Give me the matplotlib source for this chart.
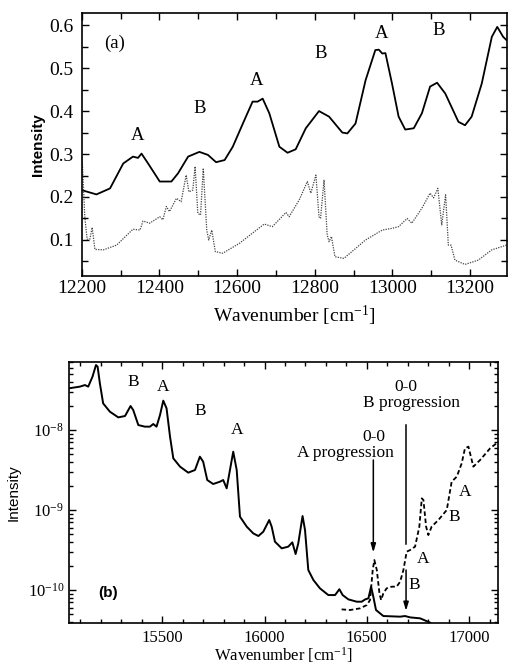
import matplotlib
matplotlib.use("Agg")
import matplotlib.pyplot as plt
from matplotlib.ticker import (MultipleLocator, LogLocator, FormatStrFormatter, NullFormatter,
                               FixedLocator)
import numpy as np

plt.rcParams['font.family'] = ['Liberation Serif', 'DejaVu Serif']
plt.rcParams['mathtext.fontset'] = 'custom'
plt.rcParams['mathtext.rm'] = 'Liberation Serif'
plt.rcParams['mathtext.it'] = 'Liberation Serif:italic'
plt.rcParams['mathtext.default'] = 'regular'

# ---------------- Panel (a) data ----------------
a_solid_x = [12200, 12238, 12273, 12307, 12332, 12345, 12354, 12371, 12401, 12431,
             12448, 12474, 12503, 12525, 12546, 12568, 12589, 12615, 12640, 12653,
             12666, 12683, 12709, 12730, 12751, 12777, 12811, 12837, 12871, 12884,
             12905, 12931, 12956, 12965, 12974, 12982, 12999, 13016, 13033, 13055,
             13076, 13097, 13115, 13136, 13170, 13187, 13204, 13230, 13256, 13270,
             13285, 13294]
a_solid_y = [0.216, 0.206, 0.220, 0.278, 0.294, 0.291, 0.301, 0.278, 0.236, 0.236,
             0.255, 0.294, 0.305, 0.298, 0.281, 0.286, 0.317, 0.371, 0.422, 0.422,
             0.429, 0.395, 0.317, 0.303, 0.311, 0.360, 0.400, 0.387, 0.350, 0.348,
             0.371, 0.472, 0.542, 0.543, 0.534, 0.535, 0.464, 0.387, 0.357, 0.360,
             0.395, 0.457, 0.466, 0.441, 0.375, 0.367, 0.387, 0.464, 0.573, 0.596,
             0.573, 0.565]

a_dot_x = [12201, 12208, 12214, 12221, 12227, 12234, 12256, 12290, 12332, 12350,
           12358, 12375, 12401, 12409, 12418, 12426, 12444, 12456, 12469, 12476,
           12486, 12492, 12499, 12506, 12513, 12522, 12527, 12535, 12544, 12563,
           12606, 12640, 12670, 12691, 12726, 12734, 12760, 12781, 12790, 12803,
           12811, 12815, 12824, 12832, 12837, 12843, 12852, 12875, 12931, 12974,
           12999, 13016, 13038, 13050, 13076, 13097, 13106, 13117, 13127, 13137,
           13144, 13151, 13161, 13187, 13221, 13256, 13294]
a_dot_y = [0.294, 0.154, 0.102, 0.102, 0.129, 0.078, 0.077, 0.088, 0.125, 0.123,
           0.144, 0.139, 0.154, 0.147, 0.178, 0.166, 0.197, 0.189, 0.251, 0.212,
           0.216, 0.271, 0.162, 0.158, 0.267, 0.123, 0.100, 0.123, 0.073, 0.069,
           0.092, 0.116, 0.137, 0.131, 0.164, 0.154, 0.193, 0.236, 0.209, 0.251,
           0.154, 0.150, 0.240, 0.112, 0.096, 0.108, 0.061, 0.057, 0.100, 0.123,
           0.127, 0.131, 0.150, 0.139, 0.174, 0.209, 0.198, 0.220, 0.135, 0.205,
           0.088, 0.088, 0.053, 0.043, 0.053, 0.077, 0.088]

a_labels = ["A", "B", "A", "B", "A", "B"]
a_label_x = [12345, 12503, 12649, 12815, 12971, 13119]
a_label_y = [0.344, 0.406, 0.472, 0.534, 0.581, 0.588]

# ---------------- Panel (b) data (log10 intensity) ----------------
b_solid_x = [15043, 15097, 15122, 15138, 15159, 15176, 15184, 15195, 15211, 15244,
             15285, 15318, 15345, 15358, 15383, 15415, 15440, 15456, 15472, 15489,
             15505, 15521, 15538, 15554, 15587, 15627, 15660, 15684, 15700, 15720,
             15749, 15782, 15798, 15815, 15831, 15847, 15864, 15880, 15913, 15945,
             15970, 15994, 16023, 16035, 16051, 16084, 16116, 16136, 16152, 16165,
             16186, 16198, 16214, 16239, 16271, 16312, 16345, 16366, 16382, 16410,
             16451, 16475, 16492, 16508, 16521, 16532, 16545, 16581, 16663, 16687,
             16712, 16761, 16810]
b_solid_log = [-7.479, -7.458, -7.438, -7.458, -7.333, -7.188, -7.208, -7.417, -7.667, -7.771,
               -7.842, -7.825, -7.700, -7.750, -7.938, -7.958, -7.958, -7.925, -7.958, -7.813,
               -7.633, -7.729, -8.083, -8.354, -8.458, -8.533, -8.500, -8.333, -8.396, -8.625,
               -8.675, -8.646, -8.625, -8.729, -8.500, -8.271, -8.500, -9.083, -9.208, -9.292,
               -9.325, -9.271, -9.125, -9.208, -9.396, -9.479, -9.458, -9.404, -9.550, -9.417,
               -9.075, -9.250, -9.750, -9.875, -9.979, -10.063, -10.063, -9.990, -10.063, -10.117,
               -10.146, -10.146, -10.117, -10.104, -9.958, -10.083, -10.250, -10.325, -10.333, -10.325,
               -10.342, -10.354, -10.408]

b_dash_x = [16377, 16418, 16467, 16500, 16516, 16529, 16537, 16549, 16562, 16570,
            16581, 16597, 16622, 16646, 16663, 16679, 16695, 16712, 16736, 16757,
            16769, 16777, 16790, 16801, 16817, 16850, 16891, 16915, 16940, 16964,
            16980, 16997, 17021, 17054, 17103, 17144]
b_dash_log = [-10.242, -10.250, -10.229, -10.188, -10.125, -9.750, -9.625, -9.750, -10.042, -10.125,
              -10.042, -9.979, -9.958, -9.958, -9.896, -9.750, -9.521, -9.500, -9.458, -9.208,
              -8.854, -8.875, -9.208, -9.313, -9.208, -9.125, -9.000, -8.646, -8.583, -8.417,
              -8.229, -8.208, -8.458, -8.375, -8.229, -8.146]

b_labels = ["B", "A", "B", "A", "A", "B", "B", "A"]
b_label_x = [15358, 15502, 15684, 15867, 16773, 16733, 16930, 16982]
b_label_log = [-7.396, -7.458, -7.763, -8.000, -9.615, -9.935, -9.083, -8.781]
b_yticks = [1e-10, 1e-9, 1e-8]

# ---------------- figure ----------------
fig = plt.figure(figsize=(5.08, 6.69), dpi=100)

ax1 = fig.add_axes([0.1608, 0.5874, 0.8372, 0.3936])
ax1.plot(a_solid_x, a_solid_y, color='black', lw=1.3)
ax1.plot(a_dot_x, a_dot_y, color='#444444', lw=0.9, ls=(0, (1, 1)))
ax1.set_xlim(12200, 13295)
ax1.set_ylim(0.016, 0.629)
ax1.xaxis.set_major_locator(MultipleLocator(200))
ax1.xaxis.set_minor_locator(MultipleLocator(100))
ax1.yaxis.set_major_locator(MultipleLocator(0.1))
ax1.yaxis.set_minor_locator(MultipleLocator(0.05))
ax1.tick_params(which='both', direction='in', top=True, right=True, labelsize=14, width=1.0)
ax1.tick_params(axis='y', which='major', pad=6)
ax1.tick_params(axis='x', which='major', pad=3)
ax1.tick_params(which='major', length=5)
ax1.tick_params(which='minor', length=4)
ax1.yaxis.set_major_formatter(FormatStrFormatter('%.1f'))
for s in ax1.spines.values():
    s.set_linewidth(1.2)
ax1.set_xlabel("Wavenumber [cm$^{-1}$]", fontsize=14, labelpad=5)
ax1.set_ylabel("Intensity", fontsize=11, family=['Liberation Sans', 'DejaVu Sans'],
               fontweight='bold', labelpad=3)
for t, x, y in zip(a_labels, a_label_x, a_label_y):
    ax1.text(x, y, t, fontsize=13.5, ha='center', va='center')
ax1.text(12285, 0.557, "(a)", fontsize=13.5, ha='center', va='center')

ax2 = fig.add_axes([0.1358, 0.0683, 0.8451, 0.3901])
ax2.plot(b_solid_x, 10.0 ** np.array(b_solid_log), color='black', lw=1.4)
ax2.plot(b_dash_x, 10.0 ** np.array(b_dash_log), color='black', lw=1.3, ls=(0, (2.5, 1.5)))
ax2.set_yscale('log')
ax2.set_xlim(15044, 17143)
ax2.set_ylim(10 ** -10.416, 10 ** -7.154)
ax2.xaxis.set_major_locator(MultipleLocator(500))
ax2.xaxis.set_minor_locator(MultipleLocator(100))
ax2.yaxis.set_major_locator(FixedLocator(b_yticks))
ax2.yaxis.set_minor_locator(LogLocator(base=10, subs=np.arange(2, 10), numticks=10))
ax2.yaxis.set_minor_formatter(NullFormatter())
ax2.tick_params(which='both', direction='in', top=True, right=True, labelsize=12, width=1.0)
ax2.tick_params(axis='x', which='major', pad=4.5)
ax2.tick_params(which='major', length=5)
ax2.tick_params(which='minor', length=3)
for s in ax2.spines.values():
    s.set_linewidth(1.2)
ax2.set_xlabel("Wavenumber [cm$^{-1}$]", fontsize=12, labelpad=0)
ax2.set_ylabel("Intensity", fontsize=11, family=['Liberation Sans', 'DejaVu Sans'], labelpad=5)
for t, x, y in zip(b_labels, b_label_x, b_label_log):
    ax2.text(x, 10 ** y, t, fontsize=12.5, ha='center', va='center')
ax2.text(16535, 10 ** -8.083, "0-0", fontsize=12.5, ha='center', va='center')
ax2.text(16395, 10 ** -8.292, "A progression", fontsize=12.5, ha='center', va='center')
ax2.text(16692, 10 ** -7.458, "0-0", fontsize=12.5, ha='center', va='center')
ax2.text(16717, 10 ** -7.658, "B progression", fontsize=12.5, ha='center', va='center')
ax2.text(15235, 10 ** -10.04, "(b)", fontsize=11, fontweight='bold',
         family=['Liberation Sans', 'DejaVu Sans'], ha='center', va='center')

arrow_kw = dict(arrowstyle='-|>,head_length=0.5,head_width=0.15', color='black', lw=1.1,
                shrinkA=0, shrinkB=0)
ax2.annotate("", xy=(16532, 10 ** -9.53), xytext=(16532, 10 ** -8.375), arrowprops=arrow_kw)
ax2.plot([16692, 16692], [10 ** -7.9375, 10 ** -9.42], color='black', lw=1.1)
ax2.annotate("", xy=(16692, 10 ** -10.26), xytext=(16692, 10 ** -9.75), arrowprops=arrow_kw)

fig.savefig("out.png", dpi=100)
